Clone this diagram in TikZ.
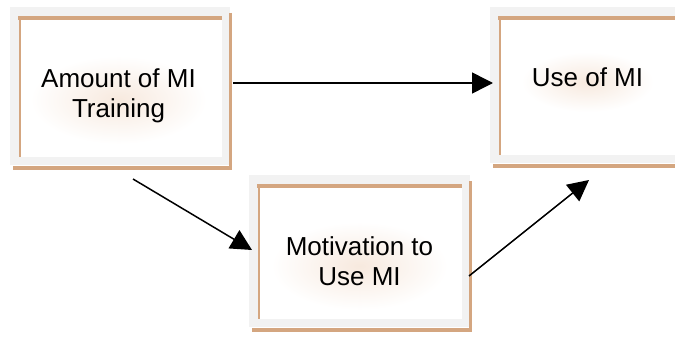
\documentclass[tikz,border=0pt]{standalone}
\usepackage{fontspec}
\setmainfont{Liberation Sans}
\usetikzlibrary{arrows.meta}
\definecolor{framegray}{RGB}{242,242,242}
\definecolor{edgetan}{RGB}{212,166,128}
\definecolor{glowtan}{RGB}{247,233,222}
\tikzset{
  panel/.style={fill=framegray, draw=none, inner sep=0pt, outer sep=0pt},
  tanedge/.style={draw=edgetan, line cap=butt},
  caption/.style={font=\fontsize{26}{30}\selectfont, align=center, inner sep=0pt},
  link/.style={line width=1.5pt, -{Triangle[length=21pt,width=21pt]}},
}
% white face with tan rules on top, left, right and bottom of a panel
\newcommand{\panelframe}[1]{%
  \fill[white] ([shift={(10,12)}]#1.north west) rectangle ([shift={(-8,-8)}]#1.south east);
  \draw[tanedge, line width=4.5pt] ([shift={(8,11)}]#1.north west) -- ([shift={(-8,11)}]#1.north east);
  \draw[tanedge, line width=2pt] ([shift={(9.5,11)}]#1.north west) -- ([shift={(9.5,-8)}]#1.south west);
  \draw[tanedge, line width=3pt] ([shift={(0.5,6)}]#1.north east) -- ([shift={(0.5,4)}]#1.south east);
  \draw[tanedge, line width=4.5pt] ([shift={(3,3)}]#1.south west) -- ([shift={(2,3)}]#1.south east);
}
\begin{document}
\begin{tikzpicture}[x=1pt, y=-1pt]
  \useasboundingbox (0,0) rectangle (675,337);
  \clip (0,0) rectangle (675,337);
  \fill[white] (0,0) rectangle (675,337);

  % panels
  \node[panel, minimum width=220pt, minimum height=158pt] (amount) at (120,86) {};
  \node[panel, minimum width=220pt, minimum height=156pt] (use) at (600,85) {};
  \node[panel, minimum width=221pt, minimum height=152pt] (motiv) at (359.5,251) {};
  \panelframe{amount}
  \panelframe{use}
  \panelframe{motiv}

  % soft glow behind the captions
  \shade[inner color=glowtan, outer color=white] (118.5,100) ellipse [x radius=88, y radius=44];
  \shade[inner color=glowtan, outer color=white] (587.5,82) ellipse [x radius=66, y radius=30];
  \shade[inner color=glowtan, outer color=white] (359.5,266) ellipse [x radius=88, y radius=44];

  % captions
  \node[caption] (amountT) at (118.5,96) {Amount of MI\\Training};
  \node[caption] (useT) at (587.5,77.5) {Use of MI};
  \node[caption] (motivT) at (359.5,261.5) {Motivation to\\Use MI};

  % connectors
  \draw[link] ([shift={(3,-3)}]amount.east) -- ([shift={(3,-2)}]use.west);
  \draw[link] ([shift={(13,14)}]amount.south) -- ([shift={(3,-1)}]motiv.west);
  \draw[link] ([shift={(-1,25)}]motiv.east) -- ([shift={(-11,17)}]use.south);
\end{tikzpicture}
\end{document}
